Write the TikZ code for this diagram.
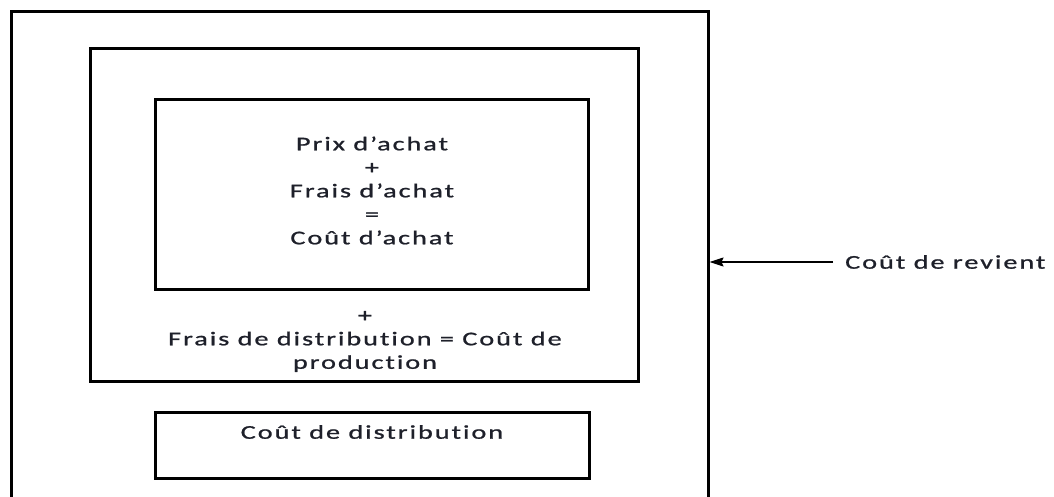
\documentclass[tikz,border=0pt]{standalone}
\usepackage{fontspec}
\setmainfont[FakeStretch=1.45,LetterSpace=10,FakeBold=1,Ligatures={NoCommon}]{Carlito}
\usetikzlibrary{arrows.meta}
\definecolor{txt}{RGB}{30,32,42}
\tikzset{
  box/.style={draw=black, line width=3pt, rectangle, inner sep=0pt},
  lbl/.style={text=txt, font=\fontsize{19.5}{23.5}\selectfont, align=center, inner sep=0pt},
}
\begin{document}
\begin{tikzpicture}[x=1pt,y=-1pt]
\useasboundingbox (0,0) rectangle (1054,497);
% outer box (bottom edge runs off the picture)
\node[box, minimum width=697pt, minimum height=510pt] (outer) at (359.5,267) {};
% middle box
\node[box, minimum width=548pt, minimum height=332pt] (mid) at (364,215) {};
% inner box
\node[box, minimum width=433pt, minimum height=189pt] (inner) at (371.5,194.5) {};
% bottom box
\node[box, minimum width=434pt, minimum height=66pt] (dist) at (372,445) {};
% texts
\node[lbl] (achat) at (372,190.5) {Prix d’achat\\+\\Frais d’achat\\=\\Coût d’achat};
\node[lbl] (prod) at (365,341.5) {+\\Frais de distribution = Coût de\\production};
\node[lbl, anchor=north] (distt) at (372,425) {Coût de distribution};
\node[lbl, anchor=west] (rev) at (845,262) {Coût de revient};
\draw[line width=1.5pt, -{Stealth[length=14pt,width=9pt,inset=2pt]}] (rev.west) ++(-12,0) coordinate (a) (a) -- (outer.east |- a);
\end{tikzpicture}
\end{document}
